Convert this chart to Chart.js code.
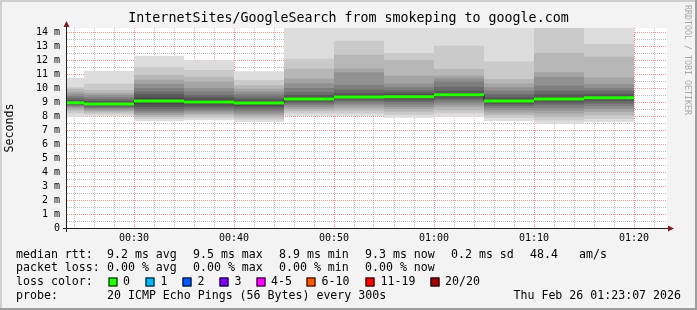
<!DOCTYPE html>
<html><head><meta charset="utf-8">
<script src="https://cdn.jsdelivr.net/npm/chart.js@4/dist/chart.umd.min.js"></script>
<style>html,body{margin:0;padding:0;background:#f3f3f3;}canvas{display:block;}</style>
</head><body>
<canvas id="c" width="697" height="310"></canvas>
<script>
const titleText = 'InternetSites/GoogleSearch from smokeping to google.com';
const yAxisTitle = 'Seconds';
const watermark = 'RRDTOOL / TOBI OETIKER';
const axisStart = '00:23:18';
const axisEnd = '01:23:18';
const blockStarts = ['00:23:18','00:25','00:30','00:35','00:40','00:45','00:50','00:55','01:00','01:05','01:10','01:15'];
const lastBlockEnd = '01:20';
const medians = [8.95, 8.86, 9.07, 9.0, 8.93, 9.21, 9.36, 9.38, 9.52, 9.07, 9.21, 9.31];
// 20 sorted ping RTTs (ms) per 5-minute block
const pingSamples = [
  [7.95, 8.2, 8.38, 8.52, 8.62, 8.7, 8.77, 8.83, 8.88, 8.93, 8.97, 9.05, 9.15, 9.28, 9.43, 9.6, 9.74, 9.95, 10.05, 10.74],
  [7.98, 8.12, 8.25, 8.36, 8.46, 8.55, 8.63, 8.7, 8.77, 8.83, 8.89, 8.97, 9.08, 9.2, 9.35, 9.5, 9.65, 9.86, 10.3, 11.24],
  [7.62, 7.8, 7.95, 8.08, 8.2, 8.32, 8.48, 8.65, 8.85, 9.03, 9.11, 9.3, 9.55, 9.75, 10.0, 10.3, 10.6, 10.93, 11.5, 12.3],
  [7.7, 7.88, 8.03, 8.17, 8.3, 8.42, 8.55, 8.7, 8.85, 8.97, 9.03, 9.18, 9.35, 9.5, 9.75, 10.0, 10.45, 10.81, 11.29, 11.98],
  [7.57, 7.75, 7.9, 8.05, 8.2, 8.35, 8.48, 8.62, 8.76, 8.9, 8.96, 9.08, 9.2, 9.38, 9.55, 9.75, 9.95, 10.2, 10.57, 11.2],
  [8.0, 8.2, 8.38, 8.52, 8.65, 8.78, 8.9, 9.0, 9.1, 9.18, 9.24, 9.35, 9.5, 9.7, 10.0, 10.35, 10.69, 11.4, 12.1, 14.8],
  [8.0, 8.2, 8.4, 8.58, 8.75, 8.9, 9.05, 9.17, 9.27, 9.34, 9.38, 9.5, 9.65, 9.9, 10.21, 11.12, 11.4, 12.38, 13.38, 14.8],
  [7.88, 8.1, 8.3, 8.48, 8.65, 8.82, 8.98, 9.12, 9.25, 9.35, 9.41, 9.52, 9.68, 9.85, 10.05, 10.33, 10.88, 12.0, 12.5, 14.8],
  [7.95, 8.2, 8.42, 8.62, 8.8, 8.97, 9.12, 9.26, 9.38, 9.49, 9.55, 9.65, 9.81, 10.1, 10.45, 10.7, 10.88, 11.36, 13.02, 14.8],
  [7.64, 7.88, 8.08, 8.25, 8.42, 8.58, 8.72, 8.85, 8.96, 9.04, 9.1, 9.2, 9.35, 9.55, 9.8, 10.05, 10.33, 10.64, 11.9, 14.8],
  [7.43, 7.7, 7.95, 8.18, 8.4, 8.6, 8.8, 8.97, 9.1, 9.19, 9.24, 9.35, 9.55, 9.81, 10.17, 10.81, 11.12, 12.5, 14.6, 14.9],
  [7.55, 7.8, 8.05, 8.28, 8.5, 8.7, 8.88, 9.05, 9.18, 9.28, 9.34, 9.45, 9.6, 9.8, 10.0, 10.29, 10.76, 12.24, 13.14, 14.8]
];
const xTickLabels = ['00:30','00:40','00:50','01:00','01:10','01:20'];
const yTickLabels = ['0','1 m','2 m','3 m','4 m','5 m','6 m','7 m','8 m','9 m','10 m','11 m','12 m','13 m','14 m'];
const lossLabels = ['0','1','2','3','4-5','6-10','11-19','20/20'];
const lossColors = ['#26ff00','#00b8ff','#0059ff','#7e00ff','#ff00ff','#ff5500','#ff0000','#a10000'];
const rttStats = ['9.2 ms avg','9.5 ms max','8.9 ms min','9.3 ms now','0.2 ms sd','48.4','am/s'];
const lossStats = ['0.00 % avg','0.00 % max','0.00 % min','0.00 % now'];
const probeText = '20 ICMP Echo Pings (56 Bytes) every 300s';
const dateText = 'Thu Feb 26 01:23:07 2026';

const MONO = '"DejaVu Sans Mono", monospace';
const toMin = s => { const p = s.split(':').map(Number); return p[0]*60 + p[1] + (p[2]||0)/60; };
const fmt = v => { const m = Math.round(v); return String(Math.floor(m/60)).padStart(2,'0') + ':' + String(m%60).padStart(2,'0'); };
const xs = blockStarts.map(toMin).concat([toMin(lastBlockEnd)]);
const greys = ['#dddddd','#cacaca','#b7b7b7','#a4a4a4','#919191','#7e7e7e','#6b6b6b','#585858','#454545','#323232'];
const half = pingSamples[0].length / 2;
const rankLine = idx => xs.map((x, i) => ({x, y: pingSamples[Math.min(i, pingSamples.length-1)][idx]}));
const datasets = [];
for (let k = 0; k < half; k++) {
  const lowIndex = datasets.length;
  datasets.push({data: rankLine(k), fill: false, borderColor: 'rgba(0,0,0,0)', borderWidth: 0, pointRadius: 0, stepped: 'before', order: 100 - k});
  datasets.push({data: rankLine(2*half - 1 - k), fill: lowIndex, backgroundColor: greys[k], borderColor: 'rgba(0,0,0,0)', borderWidth: 0, pointRadius: 0, stepped: 'before', order: 100 - k});
}
datasets.push({data: xs.map((x, i) => ({x, y: medians[Math.min(i, medians.length-1)]})), fill: false, borderColor: '#202020', borderWidth: 1, pointRadius: 0, stepped: 'before', order: 2});
const greenData = [];
medians.forEach((m, i) => { greenData.push({x: xs[i], y: m}, {x: xs[i+1], y: m}, {x: xs[i+1], y: null}); });
datasets.push({data: greenData, fill: false, borderColor: lossColors[0], borderWidth: 3, borderCapStyle: 'butt', pointRadius: 0, spanGaps: false, order: 1});

const xGrid = []; for (let v = Math.ceil(toMin(axisStart)/2)*2; v < toMin(axisEnd); v += 2) xGrid.push(v);
const yGrid = []; for (let v = 0; v <= yTickLabels.length - 1; v += 0.5) yGrid.push(v);
const MAJOR = 'rgba(222,79,79,0.6)', MINOR = 'rgba(143,143,143,0.6)';

const frame = {
  id: 'frame',
  beforeDraw(chart) {
    const c = chart.ctx, a = chart.chartArea, W = chart.width, H = chart.height;
    c.save();
    c.fillStyle = '#f3f3f3'; c.fillRect(0, 0, W, H);
    c.fillStyle = '#cfcfcf'; c.fillRect(0, 0, W, 2); c.fillRect(0, 0, 2, H);
    c.fillStyle = '#9e9e9e'; c.fillRect(0, H-2, W, 2); c.fillRect(W-2, 0, 2, H);
    c.fillStyle = '#ffffff'; c.fillRect(a.left, a.top, a.right - a.left, a.bottom - a.top);
    c.restore();
  },
  afterDraw(chart) {
    const c = chart.ctx, a = chart.chartArea;
    c.save();
    c.strokeStyle = '#1f1f1f'; c.lineWidth = 1;
    c.beginPath(); c.moveTo(a.left - 4, a.bottom + 0.5); c.lineTo(a.right + 4, a.bottom + 0.5); c.stroke();
    c.beginPath(); c.moveTo(a.left - 0.5, a.bottom + 4); c.lineTo(a.left - 0.5, a.top - 4); c.stroke();
    c.fillStyle = '#7f1f1f';
    c.beginPath(); c.moveTo(a.right + 1, a.bottom - 2.5); c.lineTo(a.right + 7, a.bottom + 0.5); c.lineTo(a.right + 1, a.bottom + 3.5); c.closePath(); c.fill();
    c.beginPath(); c.moveTo(a.left - 3.5, a.top - 1); c.lineTo(a.left - 0.5, a.top - 7); c.lineTo(a.left + 2.5, a.top - 1); c.closePath(); c.fill();
    c.save(); c.translate(687.5, 5); c.rotate(Math.PI/2);
    c.font = '8.3px ' + MONO; c.fillStyle = '#a8a8a8'; c.textAlign = 'left'; c.textBaseline = 'middle';
    c.fillText(watermark, 0, 0); c.restore();
    c.font = '11.6px ' + MONO; c.fillStyle = '#000'; c.textAlign = 'left'; c.textBaseline = 'middle';
    const r1 = 254.5, r2 = 268, r3 = 282, r4 = 296;
    c.fillText('median rtt:', 16, r1);
    [107, 193, 279, 365, 451, 530, 579].forEach((x, i) => c.fillText(rttStats[i], x, r1));
    c.fillText('packet loss:', 16, r2);
    [107, 193, 279, 365].forEach((x, i) => c.fillText(lossStats[i], x, r2));
    c.fillText('loss color:', 16, r3);
    const bx = [108.5, 145.5, 182.5, 219.5, 256.5, 306.5, 365.5, 430.5];
    const lx = [123, 160.5, 197.5, 234.5, 271, 321.5, 380.5, 445];
    lossLabels.forEach((lab, i) => {
      c.fillStyle = lossColors[i]; c.fillRect(bx[i], 277.5, 9, 9);
      c.strokeStyle = '#000'; c.lineWidth = 1; c.strokeRect(bx[i] + 0.5, 277.5 + 0.5, 8, 8);
      c.fillStyle = '#000'; c.fillText(lab, lx[i], r3);
    });
    c.fillText('probe:', 16, r4);
    c.fillText(probeText, 107, r4);
    c.textAlign = 'right'; c.fillText(dateText, 681, r4);
    c.restore();
  }
};

new Chart(document.getElementById('c'), {
  type: 'line',
  data: { datasets },
  plugins: [frame],
  options: {
    responsive: false, animation: false, devicePixelRatio: 1,
    layout: { padding: { left: 0, right: 0, top: 0, bottom: 58 } },
    plugins: {
      legend: { display: false }, tooltip: { enabled: false },
      title: { display: true, text: titleText, color: '#000', font: { family: MONO, size: 13.3, weight: 'normal', lineHeight: '16px' }, padding: { top: 11, bottom: 1 } }
    },
    scales: {
      x: {
        type: 'linear', min: toMin(axisStart), max: toMin(axisEnd), z: 1,
        afterBuildTicks: s => { s.ticks = xGrid.map(v => ({value: v})); },
        afterFit: s => { s.height = 24; },
        grid: { color: ctx => (ctx.tick && ctx.tick.value % 10 === 0) ? MAJOR : MINOR, lineWidth: 1, drawTicks: false },
        border: { display: false, dash: [1, 1] },
        ticks: { autoSkip: false, maxRotation: 0, padding: 4, color: '#000', font: { family: MONO, size: 10 },
          callback: v => xTickLabels.includes(fmt(v)) && Math.abs(v - Math.round(v)) < 1e-6 ? fmt(v) : '' }
      },
      y: {
        type: 'linear', min: 0, max: 14.29, z: 1,
        afterBuildTicks: s => { s.ticks = yGrid.map(v => ({value: v})); },
        afterFit: s => { s.width = 67; },
        grid: { color: ctx => (ctx.tick && Number.isInteger(ctx.tick.value)) ? MAJOR : MINOR, lineWidth: 1, drawTicks: false },
        border: { display: false, dash: [1, 1] },
        title: { display: true, text: yAxisTitle, color: '#000', font: { family: MONO, size: 11.6 }, padding: { top: 3, bottom: 0 } },
        ticks: { autoSkip: false, padding: 7, color: '#000', font: { family: MONO, size: 10 },
          callback: v => Number.isInteger(v) ? yTickLabels[v] : '' }
      },
      y2: {
        type: 'linear', position: 'right', display: true,
        afterFit: s => { s.width = 30; },
        grid: { display: false }, border: { display: false }, ticks: { display: false }
      }
    }
  }
});
</script>
</body></html>
